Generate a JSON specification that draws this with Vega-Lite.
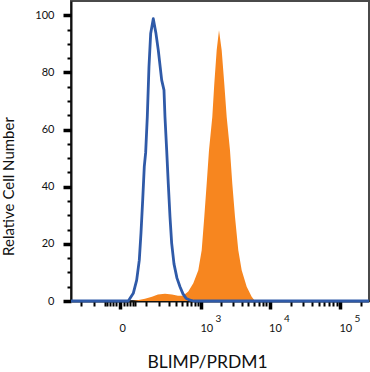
{
  "$schema": "https://vega.github.io/schema/vega-lite/v6.json",
  "autosize": "none",
  "width": 298,
  "height": 300,
  "padding": {"left": 71, "top": 1, "right": 1, "bottom": 71},
  "background": "white",
  "config": {
    "view": {"stroke": "#4a4a4a", "strokeWidth": 2},
    "font": "Lato",
    "axis": {
      "grid": false,
      "labelFont": "Lato",
      "labelFontSize": 11,
      "labelColor": "#111",
      "tickColor": "#000",
      "domainColor": "#111",
      "domainWidth": 2,
      "titleFont": "Lato",
      "titleFontWeight": "normal",
      "titleColor": "#111",
      "labelOverlap": false
    }
  },
  "datasets": {
    "blue": [
      {"x": -303, "y": 0}, {"x": 23.9, "y": 0}, {"x": 41.8, "y": 2.7}, {"x": 55.7, "y": 7.3},
      {"x": 67.5, "y": 14.3}, {"x": 75.7, "y": 23.8}, {"x": 84.4, "y": 35.3}, {"x": 93.0, "y": 47},
      {"x": 100.9, "y": 52}, {"x": 110.5, "y": 64.4}, {"x": 121.1, "y": 82}, {"x": 132.4, "y": 93.6},
      {"x": 151.0, "y": 98.8}, {"x": 171.9, "y": 93.6}, {"x": 191.3, "y": 87.8}, {"x": 222.8, "y": 77.3},
      {"x": 246.1, "y": 73.8}, {"x": 256.8, "y": 64.4}, {"x": 275.8, "y": 52.8}, {"x": 294.7, "y": 41.1},
      {"x": 315.9, "y": 29.5}, {"x": 338.3, "y": 20.2}, {"x": 370.6, "y": 13}, {"x": 416.5, "y": 8},
      {"x": 467.2, "y": 5}, {"x": 523.2, "y": 2.5}, {"x": 584.9, "y": 1}, {"x": 677, "y": 0.3},
      {"x": 782, "y": 0}, {"x": 257700, "y": 0}
    ],
    "orange": [
      {"x": -303, "y": 0}, {"x": 40.6, "y": 0}, {"x": 70.8, "y": 0.4}, {"x": 96.9, "y": 0.8},
      {"x": 141.5, "y": 1.5}, {"x": 188.7, "y": 2.3}, {"x": 256.8, "y": 2.5}, {"x": 342.4, "y": 2.3},
      {"x": 432.9, "y": 1.8}, {"x": 523.2, "y": 1.8}, {"x": 636.4, "y": 3.3}, {"x": 762.8, "y": 6.2},
      {"x": 911.4, "y": 10.8}, {"x": 1027, "y": 17.8}, {"x": 1125, "y": 29.5}, {"x": 1223, "y": 41.1},
      {"x": 1324, "y": 52.8}, {"x": 1483, "y": 64.4}, {"x": 1588, "y": 76}, {"x": 1723, "y": 87.8},
      {"x": 1864, "y": 94.8}, {"x": 2042, "y": 87.8}, {"x": 2229, "y": 76}, {"x": 2417, "y": 64.4},
      {"x": 2700, "y": 52.8}, {"x": 2916, "y": 41.1}, {"x": 3192, "y": 29.5}, {"x": 3564, "y": 17.8},
      {"x": 3991, "y": 10.8}, {"x": 4712, "y": 5}, {"x": 5556, "y": 1.5}, {"x": 6198, "y": 0},
      {"x": 257700, "y": 0}
    ]
  },
  "layer": [
    {
      "data": {"name": "orange"},
      "mark": {"type": "area", "color": "#f7861f", "interpolate": "linear"},
      "encoding": {
        "x": {
          "field": "x",
          "type": "quantitative",
          "scale": {"type": "symlog", "constant": 77, "domain": [-303, 257700], "nice": false, "zero": false},
          "axis": {
            "orient": "bottom",
            "title": null,
            "labels": false,
            "values": [-200, -100, -50, -40, -30, -20, -10, 10, 20, 30, 40, 50, 100, 200, 300, 400, 500, 600, 700, 800, 900, 2000, 3000, 4000, 5000, 6000, 7000, 8000, 9000, 20000, 30000, 40000, 50000, 60000, 70000, 80000, 90000, 200000],
            "tickSize": 5,
            "tickWidth": 2,
            "domain": true
          }
        },
        "y": {
          "field": "y",
          "type": "quantitative",
          "scale": {"domain": [0, 105], "nice": false},
          "axis": {
            "orient": "left",
            "title": null,
            "labels": false,
            "values": [5, 10, 15, 25, 30, 35, 45, 50, 55, 65, 70, 75, 85, 90, 95],
            "tickSize": 4,
            "tickWidth": 2,
            "domain": true
          }
        }
      }
    },
    {
      "data": {"name": "blue"},
      "mark": {"type": "line", "color": "#2f5aa8", "strokeWidth": 2.8, "interpolate": "linear", "strokeJoin": "round"},
      "encoding": {
        "x": {
          "field": "x",
          "type": "quantitative",
          "scale": {"type": "symlog", "constant": 77, "domain": [-303, 257700], "nice": false, "zero": false},
          "axis": {
            "orient": "bottom",
            "title": "BLIMP/PRDM1",
            "values": [0, 1000, 10000, 100000],
            "labelExpr": "datum.value == 0 ? '0' : '10'",
            "labelAlign": "left",
            "labelOffset": -1,
            "labelPadding": 13,
            "labelBound": false,
            "labelFlush": false,
            "tickSize": 8,
            "tickWidth": 3.5,
            "domain": false,
            "titleFontSize": 17.5,
            "titleX": 136,
            "titleY": 66,
            "titleBaseline": "alphabetic",
            "titleAlign": "center"
          }
        },
        "y": {
          "field": "y",
          "type": "quantitative",
          "scale": {"domain": [0, 105], "nice": false},
          "axis": {
            "orient": "left",
            "title": "Relative Cell Number",
            "values": [0, 20, 40, 60, 80, 100],
            "labelPadding": 9,
            "tickSize": 8,
            "tickWidth": 3.5,
            "domain": false,
            "titleFontSize": 15,
            "titleAngle": 270,
            "titleX": -58,
            "titleY": 185,
            "titleBaseline": "alphabetic",
            "titleAlign": "center"
          }
        }
      }
    },
    {
      "data": {"name": "blue"},
      "mark": {"type": "line", "opacity": 0},
      "encoding": {
        "x": {
          "field": "x",
          "type": "quantitative",
          "scale": {"type": "symlog", "constant": 77, "domain": [-303, 257700], "nice": false, "zero": false},
          "axis": {
            "orient": "bottom",
            "title": null,
            "values": [1000, 10000, 100000],
            "labelExpr": "datum.value == 1000 ? '3' : datum.value == 10000 ? '4' : '5'",
            "labelAlign": "left",
            "labelOffset": 14,
            "labelPadding": 12,
            "labelFontSize": 10,
            "labelBound": false,
            "labelFlush": false,
            "ticks": false,
            "tickSize": 0,
            "domain": false
          }
        },
        "y": {
          "field": "y",
          "type": "quantitative",
          "scale": {"domain": [0, 105], "nice": false},
          "axis": null
        }
      }
    }
  ],
  "resolve": {"axis": {"x": "independent", "y": "independent"}}
}
